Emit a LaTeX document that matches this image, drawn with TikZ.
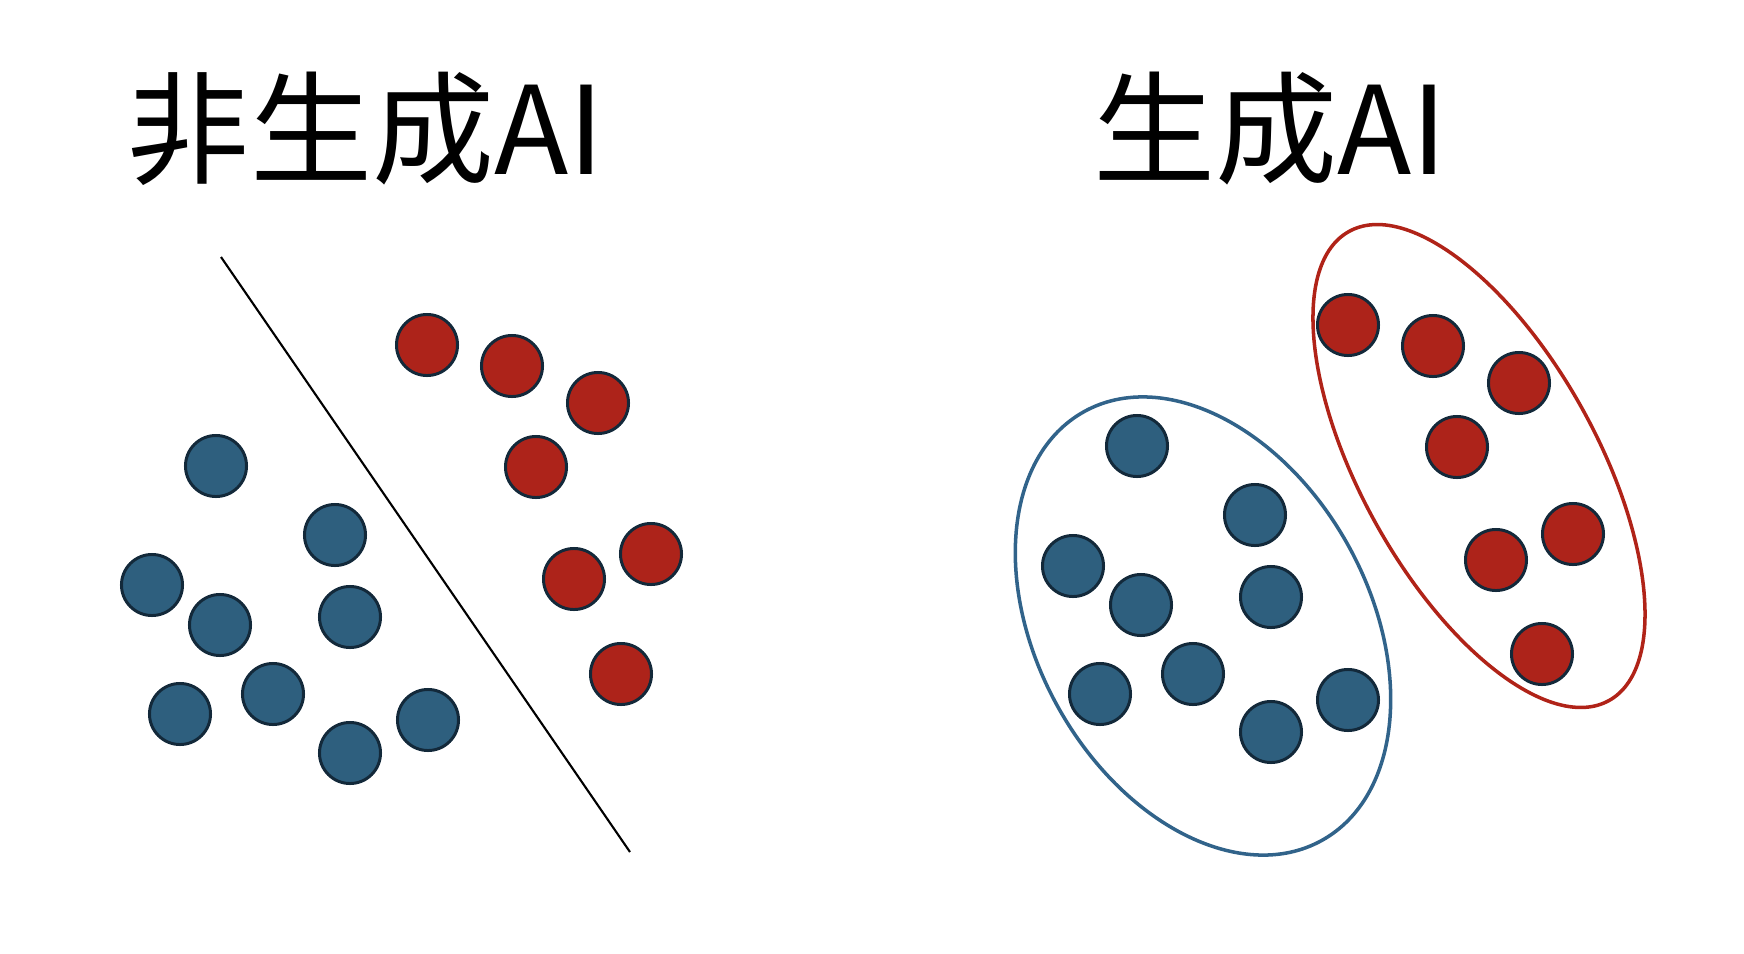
\documentclass[tikz,border=0pt]{standalone}
\usepackage{fontspec}
\newfontfamily\jpfont{Noto Sans CJK JP}
\definecolor{ptblue}{HTML}{2E5F7E}
\definecolor{ptred}{HTML}{AD231A}
\definecolor{ptline}{HTML}{13293A}
\definecolor{ringblue}{HTML}{31638A}
\definecolor{ringred}{HTML}{B02318}
\begin{document}
\begin{tikzpicture}[
    x=0.01cm, y=-0.01cm,
    datapt/.style={circle, draw=ptline, line width=0.85pt, minimum size=0.61cm, inner sep=0pt},
    bluept/.style={datapt, fill=ptblue},
    redpt/.style={datapt, fill=ptred},
    title/.style={anchor=base, inner sep=0pt, font=\jpfont\fontsize{34.7pt}{40pt}\selectfont}
  ]
  \useasboundingbox (0,0) rectangle (1744,954);
  \node[title] (nongen) at (366,174) {非生成AI};
  \node[title] (gen) at (1270,174) {生成AI};

  % discriminative side
  \node[bluept] (nb1) at (216,466) {};
  \node[bluept] (nb2) at (335,535) {};
  \node[bluept] (nb3) at (152,585) {};
  \node[bluept] (nb4) at (220,625) {};
  \node[bluept] (nb5) at (350,617) {};
  \node[bluept] (nb6) at (180,714) {};
  \node[bluept] (nb7) at (273,694) {};
  \node[bluept] (nb8) at (350,753) {};
  \node[bluept] (nb9) at (428,720) {};
  \node[redpt] (nr1) at (427,345) {};
  \node[redpt] (nr2) at (512,366) {};
  \node[redpt] (nr3) at (598,403) {};
  \node[redpt] (nr4) at (536,467) {};
  \node[redpt] (nr5) at (651,554) {};
  \node[redpt] (nr6) at (574,579) {};
  \node[redpt] (nr7) at (621,674) {};
  \coordinate (sepA) at (221,257);
  \coordinate (sepB) at (630,852);
  \draw[line width=0.6pt] (sepA) -- (sepB);

  % generative side
  \draw[ringblue, line width=1pt, rotate around={-61:(1203,626)}]
    (1203,626) ellipse [x radius=2.45cm, y radius=1.66cm];
  \draw[ringred, line width=1pt, rotate around={-61:(1479,466)}]
    (1479,466) ellipse [x radius=2.68cm, y radius=1.18cm];
  \node[bluept] (gb1) at (1137,446) {};
  \node[bluept] (gb2) at (1255,515) {};
  \node[bluept] (gb3) at (1073,566) {};
  \node[bluept] (gb4) at (1141,605) {};
  \node[bluept] (gb5) at (1271,597) {};
  \node[bluept] (gb6) at (1100,694) {};
  \node[bluept] (gb7) at (1193,674) {};
  \node[bluept] (gb8) at (1271,732) {};
  \node[bluept] (gb9) at (1348,700) {};
  \node[redpt] (gr1) at (1348,325) {};
  \node[redpt] (gr2) at (1433,346) {};
  \node[redpt] (gr3) at (1519,383) {};
  \node[redpt] (gr4) at (1457,447) {};
  \node[redpt] (gr5) at (1573,534) {};
  \node[redpt] (gr6) at (1496,560) {};
  \node[redpt] (gr7) at (1542,654) {};
\end{tikzpicture}
\end{document}
